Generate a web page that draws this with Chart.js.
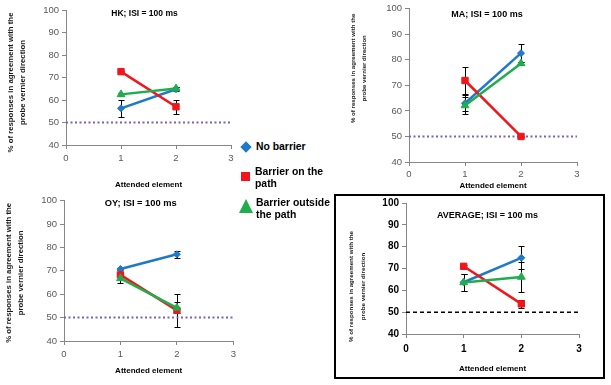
<!DOCTYPE html>
<html>
<head>
<meta charset="utf-8">
<script src="https://cdn.jsdelivr.net/npm/chart.js@4.4.1/dist/chart.umd.min.js"></script>
<style>
    html, body { margin: 0; padding: 0; background: #fff; }
    body { width: 611px; height: 385px; position: relative; overflow: hidden; font-family: "Liberation Sans", Arial, sans-serif; }
    canvas { position: absolute; }
    #avg-box { position: absolute; left: 334px; top: 194px; width: 271px; height: 185px; border: 2px solid #000; box-sizing: border-box; pointer-events: none; }
    .leg-text { position: absolute; font-weight: bold; font-size: 10.4px; line-height: 12px; color: #000; white-space: nowrap; }
    .mk { position: absolute; }
    #mk-blue { left: 242px; top: 143px; width: 8px; height: 8px; background: #1f78c8; transform: rotate(45deg); }
    #mk-red { left: 241px; top: 172px; width: 9px; height: 9px; background: #f0161b; }
    #mk-green { left: 239px; top: 199px; width: 0; height: 0; border-left: 7px solid transparent; border-right: 7px solid transparent; border-bottom: 14px solid #20ad4e; }
</style>
</head>
<body>
<canvas id="chart-hk" width="240" height="192" style="left:0;top:0"></canvas>
<canvas id="chart-ma" width="271" height="192" style="left:340px;top:0"></canvas>
<canvas id="chart-oy" width="240" height="193" style="left:0;top:192px"></canvas>
<canvas id="chart-avg" width="271" height="185" style="left:334px;top:194px"></canvas>
<div id="avg-box"></div>

<div class="mk" id="mk-blue"></div>
<div class="leg-text" style="left:256px;top:141px">No barrier</div>
<div class="mk" id="mk-red"></div>
<div class="leg-text" style="left:255px;top:166px">Barrier on the<br>path</div>
<div class="mk" id="mk-green"></div>
<div class="leg-text" style="left:256px;top:197px">Barrier outside<br>the path</div>

<script>
// attended element positions and axis ticks
const xs = [1, 2];
const xRange = [0, 3];
const yRange = [40, 100];
const chanceLevel = 50;
const yTitleLines = ['% of responses in agreement with the', 'probe vernier direction'];

// HK
const hkNoBarrier = [56.3, 64.8];
const hkNoBarrierErr = [3.7, 0.8];
const hkOnPath = [72.6, 57.0];
const hkOnPathErr = [0.5, 3.2];
const hkOutside = [62.5, 65.1];
const hkOutsideErr = [0.6, 0.8];

// MA
const maNoBarrier = [63.0, 82.6];
const maNoBarrierErr = [3.1, 3.5];
const maOnPath = [71.9, 50.0];
const maOnPathErr = [5.3, 0.3];
const maOutside = [62.1, 78.6];
const maOutsideErr = [3.2, 0.6];

// OY
const oyNoBarrier = [70.8, 77.1];
const oyNoBarrierErr = [0.5, 1.5];
const oyOnPath = [68.3, 53.1];
const oyOnPathErr = [0.6, 7.1];
const oyOutside = [66.8, 54.2];
const oyOutsideErr = [1.8, 2.3];

// AVERAGE
const avgNoBarrier = [63.7, 74.9];
const avgNoBarrierErr = [3.9, 5.3];
const avgOnPath = [71.0, 53.8];
const avgOnPathErr = [0.8, 1.8];
const avgOutside = [63.6, 66.1];
const avgOutsideErr = [4.0, 7.0];

const BLUE = '#1f78c8';
const RED = '#f0161b';
const GREEN = '#20ad4e';
const AXIS = '#868686';
const FONT = '"Liberation Sans", Arial, sans-serif';

const errorBars = {
    id: 'errorBars',
    beforeDatasetsDraw(chart) {
        const { ctx } = chart;
        const sx = chart.scales.x;
        const sy = chart.scales.y;
        ctx.save();
        ctx.strokeStyle = '#000';
        ctx.lineWidth = 1;
        chart.data.datasets.forEach((ds) => {
            if (!ds.errors) return;
            ds.data.forEach((p, i) => {
                const e = ds.errors[i];
                if (!e) return;
                const px = Math.round(sx.getPixelForValue(p.x)) + 0.5;
                const top = Math.round(sy.getPixelForValue(p.y + e)) + 0.5;
                const bot = Math.round(sy.getPixelForValue(p.y - e)) + 0.5;
                ctx.beginPath();
                ctx.moveTo(px, top); ctx.lineTo(px, bot);
                ctx.moveTo(px - 3, top); ctx.lineTo(px + 3, top);
                ctx.moveTo(px - 3, bot); ctx.lineTo(px + 3, bot);
                ctx.stroke();
            });
        });
        ctx.restore();
    },
};

// panel title inside the plot + the two-line y title (offset from the axis middle)
const panelText = {
    id: 'panelText',
    afterDraw(chart, args, opts) {
        const { ctx, chartArea: a } = chart;
        ctx.save();
        ctx.fillStyle = '#000';
        ctx.textAlign = 'center';
        ctx.textBaseline = 'middle';
        ctx.font = `bold ${opts.size}px ${FONT}`;
        ctx.fillText(opts.text, (a.left + a.right) / 2 + opts.dx, a.top + opts.dy);

        ctx.fillStyle = '#1a1a1a';
        ctx.font = `bold ${opts.ySize}px ${FONT}`;
        ctx.translate(opts.yX, (a.top + a.bottom) / 2 + opts.yDy);
        ctx.rotate(-Math.PI / 2);
        yTitleLines.forEach((line, i) => ctx.fillText(line, 0, i * opts.yLh));
        ctx.restore();
    },
};

function pts(vals) {
    return xs.map((x, i) => ({ x, y: vals[i] }));
}

function series(label, vals, errs, color, style, radius, order) {
    return {
        label,
        data: pts(vals),
        errors: errs,
        borderColor: color,
        backgroundColor: color,
        borderWidth: 2.5,
        pointStyle: style,
        pointRadius: radius,
        pointBorderWidth: 1,
        pointBorderColor: color,
        pointBackgroundColor: color,
        order,
    };
}

function makePanel(id, cfg) {
    const el = document.getElementById(id);
    const tickFont = { family: FONT, size: cfg.tickSize, weight: cfg.tickBold ? 'bold' : 'normal' };
    return new Chart(el.getContext('2d'), {
        type: 'line',
        data: {
            datasets: [
                series('No barrier', cfg.noBarrier, cfg.noBarrierErr, BLUE, 'rectRot', 3.5, 3),
                series('Barrier on the path', cfg.onPath, cfg.onPathErr, RED, 'rect', 4.5, 2),
                series('Barrier outside the path', cfg.outside, cfg.outsideErr, GREEN, 'triangle', 4.5, 1),
                {
                    label: 'chance',
                    data: [{ x: xRange[0], y: chanceLevel }, { x: xRange[1], y: chanceLevel }],
                    borderColor: cfg.refColor,
                    borderWidth: cfg.refWidth,
                    borderDash: cfg.refDash,
                    pointRadius: 0,
                    order: 4,
                },
            ],
        },
        options: {
            responsive: false,
            animation: false,
            layout: { padding: { top: cfg.padTop, right: cfg.padRight, left: 0, bottom: 0 } },
            plugins: {
                legend: { display: false },
                tooltip: { enabled: false },
                panelText: {
                    text: cfg.title, size: cfg.titleSize, dx: cfg.titleDx, dy: cfg.titleDy,
                    ySize: cfg.yTitleSize, yLh: cfg.yTitleLh, yX: cfg.yTitleX, yDy: cfg.yTitleDy,
                },
            },
            scales: {
                x: {
                    type: 'linear',
                    min: xRange[0],
                    max: xRange[1],
                    ticks: { stepSize: 1, color: cfg.tickColor, font: tickFont, padding: cfg.xTickPad },
                    grid: { drawOnChartArea: false, tickLength: 4, color: AXIS },
                    border: { color: AXIS, width: 1 },
                    title: {
                        display: true,
                        text: 'Attended element',
                        color: '#000',
                        font: { family: FONT, size: 8, weight: 'bold' },
                        padding: { top: 0, bottom: cfg.xTitlePad },
                    },
                    afterFit: (s) => { s.height = cfg.xH; },
                },
                y: {
                    type: 'linear',
                    min: yRange[0],
                    max: yRange[1],
                    ticks: { stepSize: 10, color: cfg.tickColor, font: tickFont, padding: 3 },
                    grid: { drawOnChartArea: false, tickLength: 4, color: AXIS },
                    border: { color: AXIS, width: 1 },
                    afterFit: (s) => { s.width = cfg.yW; },
                },
            },
        },
        plugins: [errorBars, panelText],
    });
}

const dotted = { refColor: '#7a62b8', refWidth: 2, refDash: [2, 2.5], tickColor: '#595959', tickSize: 9.5, tickBold: false };

makePanel('chart-hk', {
    ...dotted,
    title: 'HK; ISI = 100 ms', titleSize: 8.5, titleDx: -4, titleDy: 4,
    noBarrier: hkNoBarrier, noBarrierErr: hkNoBarrierErr,
    onPath: hkOnPath, onPathErr: hkOnPathErr,
    outside: hkOutside, outsideErr: hkOutsideErr,
    padTop: 10, padRight: 9, yW: 66, xH: 47, xTickPad: 4, xTitlePad: 2,
    yTitleSize: 7.8, yTitleLh: 12, yTitleX: 11, yTitleDy: 5,
});

makePanel('chart-ma', {
    ...dotted,
    title: 'MA; ISI = 100 ms', titleSize: 9, titleDx: -6, titleDy: 6,
    noBarrier: maNoBarrier, noBarrierErr: maNoBarrierErr,
    onPath: maOnPath, onPathErr: maOnPathErr,
    outside: maOutside, outsideErr: maOutsideErr,
    padTop: 8, padRight: 34, yW: 69, xH: 30, xTickPad: 3, xTitlePad: 1,
    yTitleSize: 6.1, yTitleLh: 11, yTitleX: 13, yTitleDy: -17,
});

makePanel('chart-oy', {
    ...dotted,
    title: 'OY; ISI = 100 ms', titleSize: 9.3, titleDx: -8, titleDy: 3,
    noBarrier: oyNoBarrier, noBarrierErr: oyNoBarrierErr,
    onPath: oyOnPath, onPathErr: oyOnPathErr,
    outside: oyOutside, outsideErr: oyOutsideErr,
    padTop: 8, padRight: 6, yW: 64, xH: 44, xTickPad: 4, xTitlePad: 9,
    yTitleSize: 7.8, yTitleLh: 12, yTitleX: 9, yTitleDy: 2,
});

makePanel('chart-avg', {
    refColor: '#000', refWidth: 1.5, refDash: [4, 3], tickColor: '#000', tickSize: 10, tickBold: true,
    title: 'AVERAGE; ISI = 100 ms', titleSize: 9, titleDx: -5, titleDy: 13,
    noBarrier: avgNoBarrier, noBarrierErr: avgNoBarrierErr,
    onPath: avgOnPath, onPathErr: avgOnPathErr,
    outside: avgOutside, outsideErr: avgOutsideErr,
    padTop: 9, padRight: 26, yW: 72, xH: 45, xTickPad: 5, xTitlePad: 5,
    yTitleSize: 6.2, yTitleLh: 12, yTitleX: 17, yTitleDy: 18,
});
</script>
</body>
</html>
